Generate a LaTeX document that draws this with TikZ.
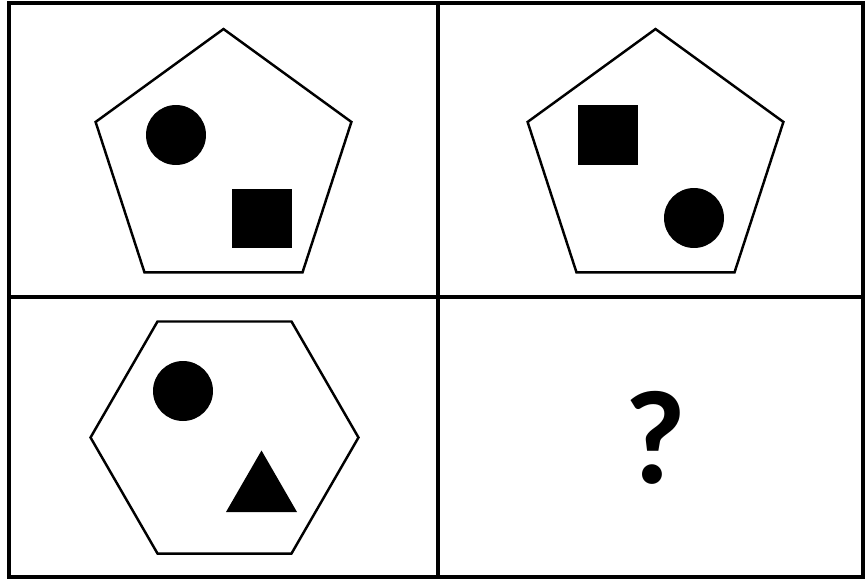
\documentclass[tikz,border=0pt]{standalone}
\usepackage{fontspec}
\newfontfamily\qfont{Carlito}
\usetikzlibrary{shapes.geometric}

\begin{document}
\begin{tikzpicture}[x=0.02cm, y=-0.02cm,
  frame/.style={line width=1.9pt},
  outline/.style={regular polygon,draw,line width=1.4pt,inner sep=0pt,minimum size=5.38cm},
  dot/.style={circle,fill=black,inner sep=0pt,minimum size=1.2cm},
  block/.style={rectangle,fill=black,inner sep=0pt,minimum size=1.2cm},
  wedge/.style={regular polygon,regular polygon sides=3,fill=black,inner sep=0pt,minimum size=1.64cm}]
\useasboundingbox[fill=white] (0,0) rectangle (865,578);
% grid
\draw[frame] (9,3) rectangle (863,577);
\coordinate (top) at (438,3);
\coordinate (bot) at (438,577);
\coordinate (lft) at (9,297);
\coordinate (rgt) at (863,297);
\draw[frame] (top) -- (bot);
\draw[frame] (lft) -- (rgt);
% panel 1
\node[outline,regular polygon sides=5] (P1) at (223.5,163.5) {};
\node[dot] (c1) at (176,135) {};
\node[block] (s1) at (262,218.5) {};
% panel 2
\node[outline,regular polygon sides=5] (P2) at (655.5,163.5) {};
\node[block] (s2) at (608,135) {};
\node[dot] (c2) at (694,218) {};
% panel 3
\node[outline,regular polygon sides=6,minimum size=5.36cm] (H3) at (224.5,437.5) {};
\node[dot] (c3) at (183,391) {};
\node[wedge] (t3) at (261.5,491.5) {};
% panel 4
\node[font=\qfont\bfseries\fontsize{76}{76}\selectfont] (q4) at (655,437.5) {?};
\end{tikzpicture}
\end{document}
